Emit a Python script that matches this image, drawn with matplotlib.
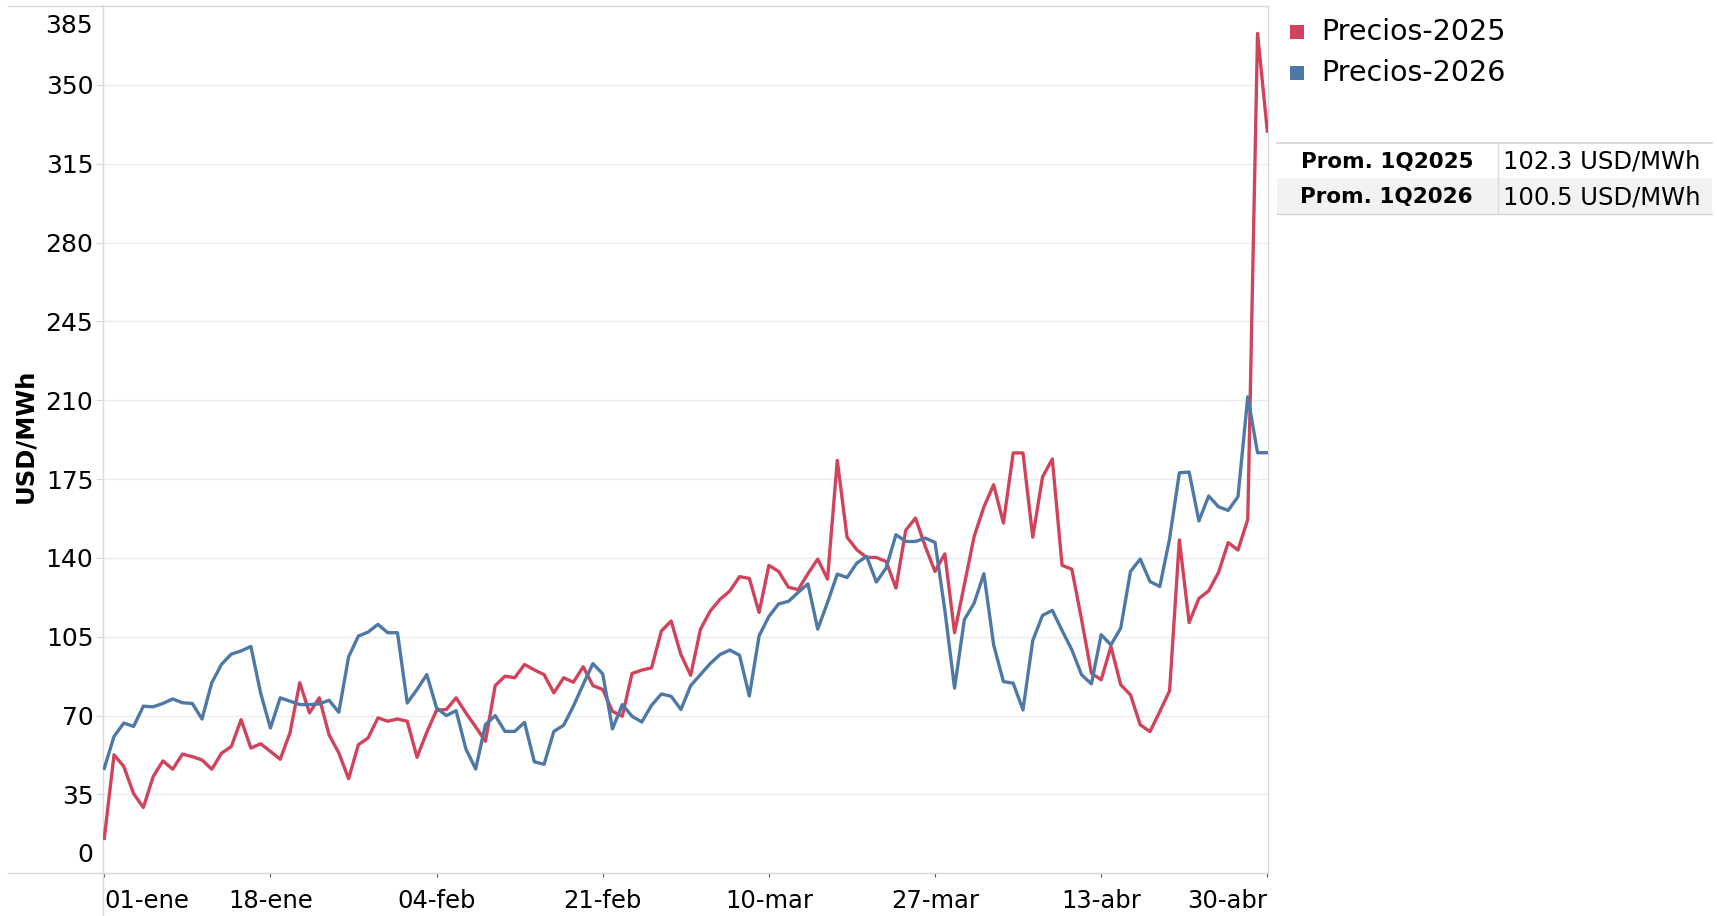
import matplotlib
matplotlib.use("Agg")
import matplotlib.pyplot as plt
from matplotlib.lines import Line2D
from matplotlib.patches import Rectangle
from matplotlib.transforms import ScaledTranslation
import pandas as pd
import numpy as np

plt.rcParams['font.family'] = ['DejaVu Sans']

# ---------------- data ----------------
dates = pd.date_range("2026-01-01", "2026-04-30", freq="D")

precios_2025 = [
    15.5, 52.6, 47.4, 35.4, 29.2, 42.9, 49.9, 46.2, 52.9, 51.8,
    50.3, 46.2, 53.3, 56.3, 68.2, 55.6, 57.5, 54.1, 50.6, 62.3,
    84.6, 71.2, 77.9, 61.5, 53.4, 42.0, 57.1, 60.1, 69.0, 67.5,
    68.5, 67.5, 51.5, 62.6, 72.4, 72.7, 77.9, 71.2, 65.0, 58.6,
    83.3, 87.5, 86.8, 92.7, 90.3, 88.2, 80.1, 86.8, 84.8, 91.7,
    83.3, 81.6, 71.9, 69.7, 88.7, 90.2, 91.2, 107.5, 112.0, 97.1,
    87.9, 108.3, 116.4, 121.6, 125.3, 131.7, 130.9, 115.8, 136.7, 134.0,
    127.0, 125.9, 133.0, 139.5, 130.6, 183.3, 149.2, 143.6, 140.2, 140.2,
    138.4, 126.6, 152.2, 157.7, 145.1, 134.0, 141.8, 106.8, 128.1, 149.5,
    162.6, 172.5, 155.5, 186.6, 186.6, 149.2, 175.9, 183.9, 136.7, 135.0,
    112.5, 88.8, 85.9, 100.7, 83.7, 79.2, 65.9, 62.9, 71.8, 81.0,
    148.0, 111.3, 122.0, 125.4, 133.5, 146.8, 143.5, 157.1, 372.8, 329.5,
]

precios_2026 = [
    46.6, 60.8, 66.7, 65.2, 74.2, 73.9, 75.4, 77.4, 75.7, 75.4,
    68.5, 84.6, 92.8, 97.3, 98.7, 100.7, 80.0, 64.5, 77.9, 76.4,
    74.9, 74.9, 75.2, 76.8, 71.5, 96.1, 105.3, 107.1, 110.5, 106.8,
    106.8, 75.6, 81.6, 88.2, 73.4, 70.0, 72.2, 55.2, 46.3, 66.0,
    70.0, 63.0, 63.0, 67.0, 49.5, 48.4, 63.0, 65.7, 74.2, 83.8,
    93.1, 88.5, 64.1, 74.9, 69.7, 67.2, 74.6, 79.6, 78.6, 72.7,
    83.3, 88.2, 93.1, 97.1, 99.1, 96.8, 78.7, 105.4, 114.0, 119.6,
    120.7, 124.7, 128.5, 108.4, 120.2, 132.8, 131.3, 137.7, 140.7, 129.3,
    135.5, 150.3, 147.3, 147.3, 148.8, 146.9, 117.0, 82.2, 112.6, 119.9,
    133.0, 101.4, 85.1, 84.4, 72.5, 103.3, 114.5, 116.7, 107.8, 99.2,
    88.1, 84.1, 105.9, 101.4, 108.8, 134.0, 139.5, 129.5, 127.3, 148.5,
    177.8, 178.1, 156.4, 167.5, 162.7, 161.1, 167.2, 211.5, 186.7, 186.7,
]

series_names = ["Precios-2025", "Precios-2026"]
series_colors = ["#d1435b", "#4e79a7"]

y_ticks = [0, 35, 70, 105, 140, 175, 210, 245, 280, 315, 350, 385]
x_tick_labels = ["01-ene", "18-ene", "04-feb", "21-feb", "10-mar", "27-mar", "13-abr", "30-abr"]
x_tick_step = 17

table_labels = ["Prom. 1Q2025", "Prom. 1Q2026"]
table_values = ["102.3 USD/MWh", "100.5 USD/MWh"]
y_label = "USD/MWh"

# ---------------- figure ----------------
W, H = 1717, 916
DPI = 100
fig = plt.figure(figsize=(W / DPI, H / DPI), dpi=DPI)

def fx(px):
    return px / W

def fy(py):
    return 1 - py / H

ax_left, ax_right, ax_top, ax_bottom = 103, 1268, 6, 873.3
ax = fig.add_axes([fx(ax_left), fy(ax_bottom), fx(ax_right - ax_left), (ax_bottom - ax_top) / H])

x = np.arange(len(dates))
for vals, name, col in zip([precios_2025, precios_2026], series_names, series_colors):
    ax.plot(x, vals, color=col, lw=2.4, solid_joinstyle='round', zorder=3, label=name)

ax.set_xlim(-0.13, len(dates) - 1 + 0.07)
ax.set_ylim(0, 385)

grid_c = "#d9d9d9"
for s in ax.spines.values():
    s.set_color(grid_c)
    s.set_linewidth(1.0)

# y ticks: edge labels drawn separately so they can sit inside the plot height (Tableau style)
ax.set_yticks(y_ticks)
ax.set_yticklabels(["" if v in (y_ticks[0], y_ticks[-1]) else str(v) for v in y_ticks])
ax.grid(axis='y', color="#ececec", lw=1.0, zorder=0)
ax.tick_params(axis='y', length=5, color=grid_c, labelsize=18, pad=2, labelcolor='black')

ytrans = ax.get_yaxis_transform()
for v, dy_px in [(y_ticks[0], 18), (y_ticks[-1], -20)]:
    tr = ytrans + ScaledTranslation(-9.8 / DPI, dy_px / DPI, fig.dpi_scale_trans)
    ax.text(0, v, str(v), transform=tr, ha='right', va='center', fontsize=18, color='black',
            clip_on=False)

tick_pos = x[::x_tick_step]
ax.set_xticks(tick_pos)
ax.set_xticklabels(x_tick_labels[:len(tick_pos)])
ax.tick_params(axis='x', length=3, color="#555555", labelsize=17.5, pad=8, labelcolor='black')

xtl = ax.get_xticklabels()
xtl[0].set_horizontalalignment('left')
xtl[-1].set_horizontalalignment('right')

# extended frame lines (Tableau style)
fig.add_artist(Line2D([fx(8), fx(ax_left)], [fy(ax_bottom)] * 2, transform=fig.transFigure, color=grid_c, lw=1.0))
fig.add_artist(Line2D([fx(8), fx(ax_left)], [fy(ax_top)] * 2, transform=fig.transFigure, color=grid_c, lw=1.0))
fig.add_artist(Line2D([fx(ax_left)] * 2, [fy(ax_bottom), 0], transform=fig.transFigure, color=grid_c, lw=1.0))

# y label
fig.text(fx(25), fy(436), y_label, rotation=90, ha='center', va='center',
         fontsize=17.5, fontweight='bold', color='black')

# legend (manual)
leg_y = [32, 73]
for name, col, yy in zip(series_names, series_colors, leg_y):
    fig.add_artist(Rectangle((fx(1290), fy(yy + 7)), fx(14), 14 / H, transform=fig.transFigure,
                             facecolor=col, edgecolor='none'))
    fig.text(fx(1321), fy(yy), name, ha='left', va='center', fontsize=20.5, color='black')

# table
tx0, tx1, tdiv = 1277, 1712, 1498
row_top = [143, 178.5]
row_h = 35.5
row_bg = ["white", "#f2f2f2"]
for lab, val, rt, bg in zip(table_labels, table_values, row_top, row_bg):
    fig.add_artist(Rectangle((fx(tx0), fy(rt + row_h)), fx(tx1 - tx0), row_h / H,
                             transform=fig.transFigure, facecolor=bg, edgecolor='none'))
    fig.text(fx(1473), fy(rt + row_h / 2 + 1), lab, ha='right', va='center', fontsize=15.5,
             fontweight='bold', color='black')
    fig.text(fx(1503), fy(rt + row_h / 2 + 1), val, ha='left', va='center', fontsize=17.5, color='black')
fig.add_artist(Line2D([fx(tx0), fx(tx1)], [fy(143)] * 2, transform=fig.transFigure, color="#d4d4d4", lw=1.2))
fig.add_artist(Line2D([fx(tx0), fx(tx1)], [fy(214)] * 2, transform=fig.transFigure, color="#d4d4d4", lw=1.0))
fig.add_artist(Line2D([fx(tdiv)] * 2, [fy(143), fy(214)], transform=fig.transFigure, color="#dcdcdc", lw=1.0))

fig.savefig("out.png", dpi=DPI, facecolor='white')
